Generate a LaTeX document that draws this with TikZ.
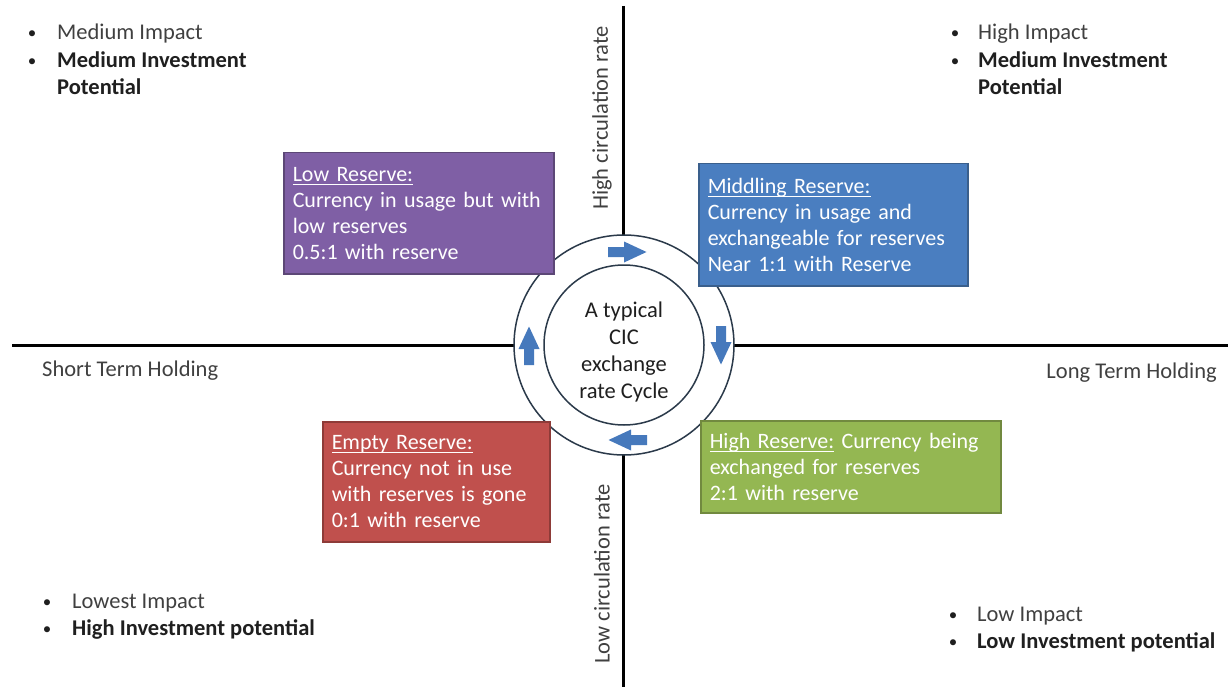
\documentclass[tikz,border=0pt]{standalone}
\usepackage{fontspec}
\setmainfont{Carlito}
\newsavebox\undlbox
\newcommand\undl[1]{\sbox\undlbox{#1}\rlap{\raisebox{-3.5pt}{\rule{\wd\undlbox}{1.1pt}}}\usebox\undlbox}
\definecolor{purpfill}{HTML}{7F5FA5}
\definecolor{purpline}{HTML}{5C4776}
\definecolor{bluefill}{HTML}{4A7EC0}
\definecolor{blueline}{HTML}{3A5F8C}
\definecolor{redfill}{HTML}{C0504D}
\definecolor{redline}{HTML}{8E3B38}
\definecolor{greenfill}{HTML}{94B752}
\definecolor{greenline}{HTML}{71893F}
\definecolor{arrowblue}{HTML}{4679BC}
\definecolor{ringcol}{HTML}{2B3A4A}
\definecolor{txtgray}{HTML}{404040}
\definecolor{txtdark}{HTML}{1F1F1F}
\newcommand\blockarrow[3]{\fill[arrowblue, shift={(#1,#2)}, rotate=#3] (-19,-5) -- (-3,-5) -- (-3,-10.5) -- (19.5,0) -- (-3,10.5) -- (-3,5) -- (-19,5) -- cycle;}
\begin{document}
\begin{tikzpicture}[x=1pt,y=-1pt,
  every node/.style={font=\fontsize{22.5}{27}\selectfont},
  box/.style={draw, line width=1.5pt, anchor=north west, align=left, inner xsep=9pt, inner ysep=0pt, text=white, font=\fontsize{22}{26}\selectfont},
  corner/.style={anchor=base west, inner sep=0pt, text=txtgray},
  cornerb/.style={anchor=base west, inner sep=0pt, text=txtdark, font=\fontsize{22.5}{27}\selectfont\bfseries},
  bul/.style={anchor=base, inner sep=0pt, text=txtdark, font=\fontsize{17}{20}\selectfont},
  axislbl/.style={inner sep=0pt, text=txtgray},
  axisline/.style={line width=3pt, black},
  ring/.style={circle, draw=ringcol, line width=1.5pt, fill=white, inner sep=0pt}
]
\useasboundingbox (0,0) rectangle (1228,687);
\fill[white] (0,0) rectangle (1228,687);

% axes
\coordinate (hl) at (12,345);
\coordinate (hr) at (1228,345);
\coordinate (vt) at (623,6);
\coordinate (vb) at (623,687);
\draw[axisline] (hl) -- (hr);
\draw[axisline] (vt) -- (vb);

% cycle circles
\node[ring, minimum size=220pt] (outer) at (624,345) {};
\node[ring, minimum size=160pt] (inner) at (624,345) {};
\node[align=center, text=txtdark, inner sep=0pt] (cyc) at (624,352) {A typical\\CIC\\exchange\\rate Cycle};

% block arrows
\blockarrow{627}{252}{0}
\blockarrow{721}{345}{-90}
\blockarrow{628}{440}{180}
\blockarrow{529}{346}{90}

% state boxes
\node[box, fill=purpfill, draw=purpline, minimum width=270pt, minimum height=121pt, text width=252pt] (low) at (283,152)
  {\undl{Low Reserve:}\\Currency in usage but with\\low reserves\\0.5:1 with reserve};
\node[box, fill=bluefill, draw=blueline, minimum width=269pt, minimum height=122pt, text width=251pt] (mid) at (698,163)
  {\undl{Middling Reserve:}\\Currency in usage and\\exchangeable for reserves\\Near 1:1 with Reserve};
\node[box, fill=redfill, draw=redline, minimum width=227pt, minimum height=120pt, text width=209pt] (empty) at (322,421)
  {\undl{Empty Reserve:}\\Currency not in use\\with reserves is gone\\0:1 with reserve};
\node[box, fill=greenfill, draw=greenline, minimum width=300pt, minimum height=92pt, text width=282pt] (high) at (700,420)
  {\undl{High Reserve:} Currency being\\exchanged for reserves\\2:1 with reserve};

% axis labels
\node[axislbl, anchor=base west] (short) at (42,376) {Short Term Holding};
\node[axislbl, anchor=base east] (long) at (1217,378) {Long Term Holding};
\node[axislbl, rotate=90] (hicirc) at (602,118) {High circulation rate};
\node[axislbl, rotate=90] (locirc) at (602,574) {Low circulation rate};

% top-left
\node[bul] (tlb1) at (32,39) {•};
\node[corner] (tl1) at (57,40) {Medium Impact};
\node[bul] (tlb2) at (32,67) {•};
\node[cornerb] (tl2) at (57,68) {Medium Investment};
\node[cornerb] (tl3) at (57,95) {Potential};

% top-right
\node[bul] (trb1) at (955,39) {•};
\node[corner] (tr1) at (978,40) {High Impact};
\node[bul] (trb2) at (955,67) {•};
\node[cornerb] (tr2) at (978,68) {Medium Investment};
\node[cornerb] (tr3) at (978,95) {Potential};

% bottom-left
\node[bul] (blb1) at (47,607) {•};
\node[corner] (bl1) at (72,608) {Lowest Impact};
\node[bul] (blb2) at (47,634) {•};
\node[cornerb] (bl2) at (72,635) {High Investment potential};

% bottom-right
\node[bul] (brb1) at (953,620) {•};
\node[corner] (br1) at (977,621) {Low Impact};
\node[bul] (brb2) at (953,647) {•};
\node[cornerb] (br2) at (977,648) {Low Investment potential};
\end{tikzpicture}
\end{document}
